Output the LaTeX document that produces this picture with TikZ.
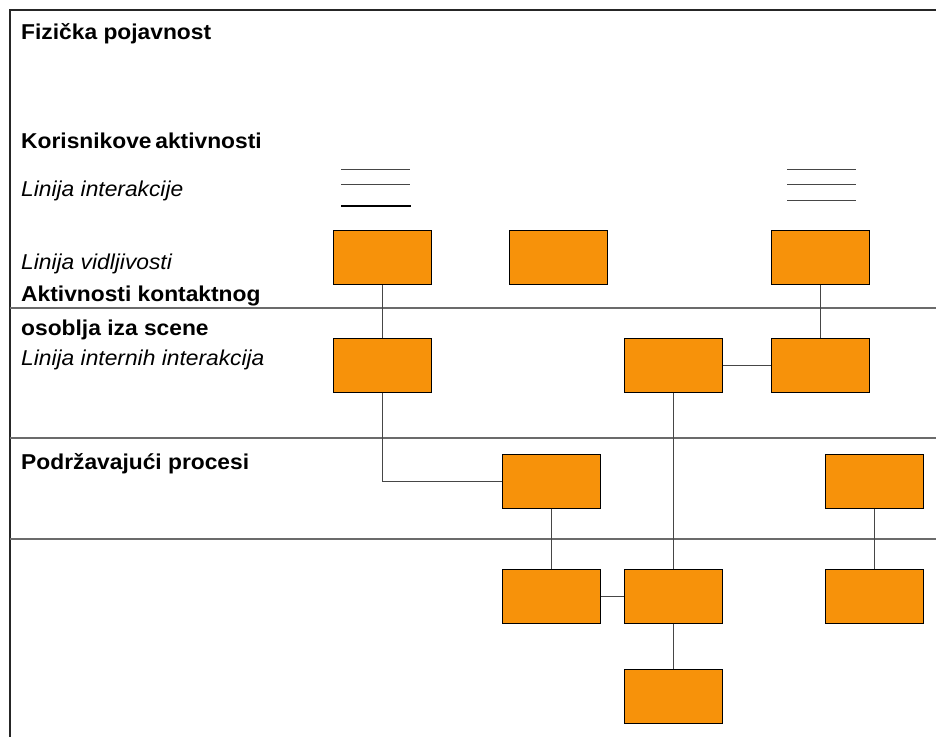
\documentclass[tikz,border=0pt]{standalone}
\usepackage{fontspec}
\setmainfont{Liberation Sans}
\definecolor{boxorange}{RGB}{247,146,10}
\definecolor{linegray}{RGB}{70,70,70}
\newcommand{\wide}[1]{\scalebox{1.06}[1]{#1}}
\tikzset{
  box/.style={draw=black, line width=1pt, fill=boxorange, minimum width=98pt, minimum height=54pt, inner sep=0pt},
  conn/.style={draw=linegray, line width=1pt},
  divider/.style={draw=linegray!80, line width=1.3pt},
  frameline/.style={draw=black!85, line width=1.3pt},
  head/.style={anchor=base west, inner sep=0pt, font=\fontsize{21.5}{24}\selectfont\bfseries},
  sub/.style={anchor=base west, inner sep=0pt, font=\fontsize{21.5}{24}\selectfont\itshape},
  legend/.style={draw=linegray, line width=1pt}
}
\begin{document}
\begin{tikzpicture}[x=1pt,y=-1pt]
\useasboundingbox (0,0) rectangle (936,737);
% frame and dividers
\draw[frameline] (936,10) -- (10,10) -- (10,737);
\draw[divider] (10,308) -- (936,308);
\draw[divider] (10,438) -- (936,438);
\draw[divider] (10,539) -- (936,539);
% texts
\node[head] (t1) at (21,39) {\wide{Fizička pojavnost}};
\node[head] (t2) at (21,148.3) {\wide{Korisnikove\hspace{3.5pt}aktivnosti}};
\node[sub] (t3) at (21,196.5) {\wide{Linija interakcije}};
\node[sub] (t4) at (21,269.5) {\wide{Linija vidljivosti}};
\node[head] (t5) at (21,301.7) {\wide{Aktivnosti kontaktnog}};
\node[head] (t6) at (21,335.5) {\wide{osoblja iza scene}};
\node[sub] (t7) at (21,365) {\wide{Linija internih interakcija}};
\node[head] (t8) at (21,469) {\wide{Podržavajući procesi}};
% legend lines
\draw[legend] (341,169) -- (410,169);
\draw[legend] (341,184) -- (410,184);
\draw[draw=black, line width=2.5pt] (341,206) -- (411,206);
\draw[legend] (787,169) -- (856,169);
\draw[legend] (787,184) -- (856,184);
\draw[legend] (787,200) -- (856,200);
% boxes
\node[box] (A1) at (382,257.5) {};
\node[box] (A2) at (558.5,257.5) {};
\node[box] (A3) at (820.5,257.5) {};
\node[box] (B1) at (382,365) {};
\node[box] (B2) at (673.5,365) {};
\node[box] (B3) at (820.5,365) {};
\node[box] (C1) at (551,481) {};
\node[box] (C2) at (874,481) {};
\node[box] (D1) at (551,596) {};
\node[box] (D2) at (673.5,596) {};
\node[box] (D3) at (874,596) {};
\node[box] (E1) at (673.5,696.5) {};
% connectors
\draw[conn] (A1.south) -- (B1.north);
\draw[conn] (A3.south) -- (B3.north);
\draw[conn] (B2.east) -- (B3.west);
\draw[conn] (B1.south) |- (C1.west);
\draw[conn] (B2.south) -- (D2.north);
\draw[conn] (C1.south) -- (D1.north);
\draw[conn] (C2.south) -- (D3.north);
\draw[conn] (D1.east) -- (D2.west);
\draw[conn] (D2.south) -- (E1.north);
\end{tikzpicture}
\end{document}
